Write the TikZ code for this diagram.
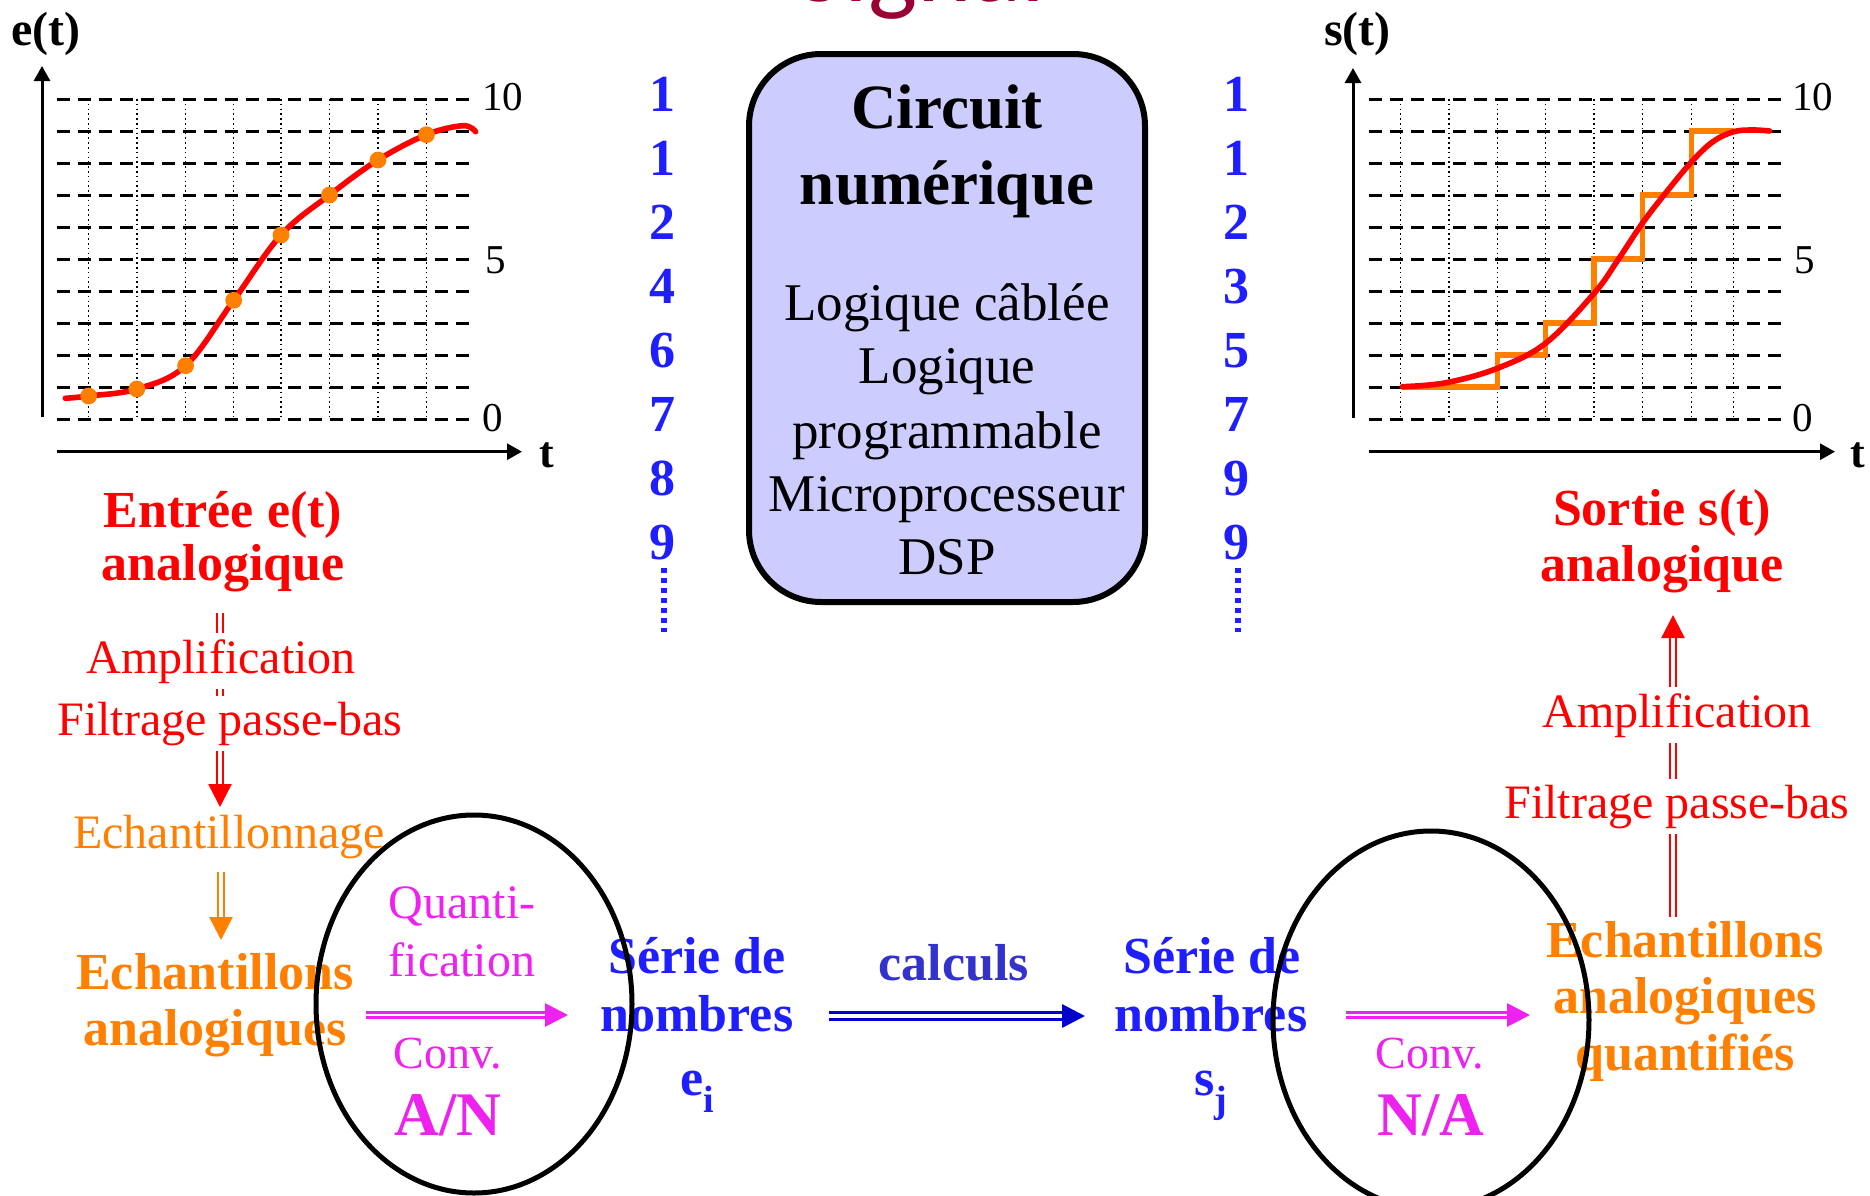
\documentclass[tikz,border=0pt]{standalone}
\usepackage{fontspec}
\setmainfont{Liberation Serif}
\newfontfamily\sigfont{Carlito}
\usetikzlibrary{arrows.meta}
\definecolor{myred}{HTML}{FF0000}
\definecolor{myorange}{HTML}{FF8000}
\definecolor{myblue}{HTML}{1E1EFF}
\definecolor{calcblue}{HTML}{3333CC}
\definecolor{arrblue}{HTML}{0000CC}
\definecolor{mymag}{HTML}{EE22EE}
\definecolor{boxfill}{HTML}{CCCCFF}
\definecolor{sigred}{HTML}{990033}
\newcommand\fBold{\fontsize{26}{28}\bfseries\selectfont}
\newcommand\fReg{\fontsize{24}{26}\selectfont}
\newcommand\fTick{\fontsize{20.5}{22}\selectfont}
\newcommand\fAxis{\fontsize{24}{26}\bfseries\selectfont}
\newcommand\fT{\fontsize{22}{24}\bfseries\selectfont}
\newcommand\fTitle{\fontsize{31.5}{38}\bfseries\selectfont}
\newcommand\fList{\fontsize{26.5}{31.5}\selectfont}
\newcommand\fConv{\fontsize{23}{25}\selectfont}
\newcommand\fAN{\fontsize{31}{33}\bfseries\selectfont}
\newcommand\mysub[1]{\raisebox{-8.5pt}{\fontsize{19}{19}\bfseries\selectfont #1}}
\tikzset{
  txt/.style={anchor=base, inner sep=0pt},
  boldlbl/.style={txt, font=\fBold},
  reglbl/.style={txt, font=\fReg},
  whitelbl/.style={anchor=base, inner sep=3pt, fill=white, font=\fReg},
  tick/.style={anchor=west, inner sep=0pt, font=\fTick},
  hdash/.style={line width=1.5pt, dash pattern=on 6.5pt off 4pt},
  vdot/.style={line width=0.7pt, dash pattern=on 0.8pt off 1.6pt},
  axis/.style={line width=1.5pt, -{Triangle[length=7.5pt,width=8pt]}},
  curve/.style={draw=myred, line width=2.8pt, line cap=round},
  stair/.style={draw=myorange, line width=2.6pt},
  ell/.style={draw=black, line width=2.5pt},
  circbox/.style={draw=black, fill=boxfill, line width=3pt, rounded corners=36pt,
    minimum width=198pt, minimum height=274pt, inner sep=0pt},
  digit/.style={txt, font=\fBold, text=myblue},
  bluedots/.style={draw=myblue, line width=2.8pt, dash pattern=on 2.5pt off 2.5pt},
  dblarrow/.style={line width=1.2pt, double=white, double distance=1.6pt,
    -{Triangle[length=11.5pt,width=11.5pt]}},
  dblred/.style={dblarrow, draw=myred},
  dblorange/.style={dblarrow, draw=myorange},
  dblmag/.style={dblarrow, draw=mymag, line width=1.4pt, double distance=1.3pt},
  dblblue/.style={dblarrow, draw=arrblue, line width=1.6pt, double distance=1.6pt},
}
\begin{document}
\begin{tikzpicture}[x=0.5pt,y=-0.5pt]
\fill[white] (0,0) rectangle (1870,1195);
\useasboundingbox (0,0) rectangle (1870,1195);

% title (cut off at the top, as in the reference)
\node[txt, font=\sigfont\fontsize{52}{52}\selectfont, text=sigred] (sig) at (921,1) {Signal};

% ---------- left graph ----------
\foreach \k in {0,...,10}
  \draw[hdash] (56.7,{99+32*\k}) -- (475.6,{99+32*\k});
\foreach \x in {88.7,136.8,185.6,233.7,281,329.5,378,426.4}
  \draw[vdot] (\x,99) -- (\x,419);
\draw[axis] (42,417) -- (42,66);
\draw[axis] (56.7,451.7) -- (522,451.7);
\node[txt, font=\fAxis] (et) at (46,45) {e(t)};
\node[txt, font=\fT] (tl) at (547,467) {t};
\node[tick] (l10) at (482,97) {10};
\node[tick] (l5) at (485,260) {5};
\node[tick] (l0) at (482,418) {0};
\draw[curve] plot[smooth, tension=0.6] coordinates {(65.3,398.3) (88.7,396) (136.8,389) (185.6,365.7) (233.7,300.3) (281,235) (329.5,195) (378,160) (426.4,134.7) (463,125.7) (475.6,131.7)};
\foreach \p in {(88.7,396),(136.8,389),(185.6,365.7),(233.7,300.3),(281,235),(329.5,195),(378,160),(426.4,134.7)}
  \fill[myorange] \p circle[radius=4.2pt];

% ---------- right graph ----------
\foreach \k in {0,...,10}
  \draw[hdash] (1369.4,{99+32*\k}) -- (1786,{99+32*\k});
\foreach \x in {1400.5,1449,1497.3,1545.5,1594,1642.3,1691.7,1733.7}
  \draw[vdot] (\x,99) -- (\x,419);
\draw[axis] (1353,418) -- (1353,68);
\draw[axis] (1369.4,451.7) -- (1835,451.7);
\node[txt, font=\fAxis] (st) at (1357.5,45) {s(t)};
\node[txt, font=\fT] (tr) at (1858,467) {t};
\node[tick] (r10) at (1792,97) {10};
\node[tick] (r5) at (1794,260) {5};
\node[tick] (r0) at (1792,418) {0};
\draw[stair] (1402,387) -| (1497.3,355) -| (1545.5,323) -| (1594,259) -| (1642.3,195) -| (1691.7,131) -- (1733.7,131);
\draw[curve] plot[smooth, tension=0.6] coordinates {(1402.3,386.7) (1446.1,382.7) (1497.3,368.3) (1545.5,343.3) (1594.1,293.3) (1617.9,260) (1642.3,223.3) (1665.4,193.3) (1691.7,161.7) (1712.9,141.7) (1733.7,131.7) (1753.1,130) (1769.5,131)};

% ---------- central box ----------
\node[circbox] (circ) at (947,328) {};
\node[txt, font=\fTitle] (c1) at (947,128) {Circuit};
\node[txt, font=\fTitle] (c2) at (947,204) {numérique};
\node[txt, font=\fList] (m1) at (947,320) {Logique câblée};
\node[txt, font=\fList] (m2) at (947,383) {Logique};
\node[txt, font=\fList] (m3) at (947,448) {programmable};
\node[txt, font=\fList] (m4) at (947,511) {Microprocesseur};
\node[txt, font=\fList] (m5) at (947,574) {DSP};

% ---------- digit columns ----------
\foreach \d [count=\i from 0] in {1,1,2,4,6,7,8,9}
  \node[digit] (dl\i) at (662,{111+64*\i}) {\d};
\foreach \d [count=\i from 0] in {1,1,2,3,5,7,9,9}
  \node[digit] (dr\i) at (1236,{111+64*\i}) {\d};
\coordinate (dlA) at (664,568); \coordinate (dlB) at (664,632);
\coordinate (drA) at (1238,568); \coordinate (drB) at (1238,632);
\draw[bluedots] (dlA) -- (dlB);
\draw[bluedots] (drA) -- (drB);

% ---------- left chain ----------
\coordinate (la1) at (220,613); \coordinate (la2) at (220,807);
\draw[dblred] (la1) -- (la2);
\coordinate (lo1) at (221,872); \coordinate (lo2) at (221,940);
\draw[dblorange] (lo1) -- (lo2);
\node[boldlbl, text=myred] (in1) at (223,527) {Entrée e(t)};
\node[boldlbl, text=myred] (in2) at (223,580) {analogique};
\node[whitelbl, text=myred] (ampL) at (221,673) {Amplification};
\node[whitelbl, text=myred] (filL) at (230,735) {Filtrage passe-bas};
\node[reglbl, text=myorange] (ech) at (229,848) {Echantillonnage};
\node[boldlbl, text=myorange] (eaL1) at (215,989) {Echantillons};
\node[boldlbl, text=myorange] (eaL2) at (215,1045) {analogiques};

% ---------- A/N ----------
\node[reglbl, text=mymag] (q1) at (462,918) {Quanti-};
\node[reglbl, text=mymag] (q2) at (462,976) {fication};
\coordinate (an1) at (366,1015); \coordinate (an2) at (568,1015);
\draw[dblmag] (an1) -- (an2);
\node[txt, font=\fConv, text=mymag] (cv1) at (448,1068) {Conv.};
\node[txt, font=\fAN, text=mymag] (AN) at (448,1135) {A/N};

\node[boldlbl, text=myblue] (se1) at (697,973) {Série de};
\node[boldlbl, text=myblue] (se2) at (697,1031) {nombres};
\node[boldlbl, text=myblue] (se3) at (697,1095) {e\mysub{i}};

% ---------- calculs ----------
\node[boldlbl, text=calcblue] (calc) at (954,980) {calculs};
\coordinate (ca1) at (829,1016); \coordinate (ca2) at (1085,1016);
\draw[dblblue] (ca1) -- (ca2);

\node[boldlbl, text=myblue] (ss1) at (1212,973) {Série de};
\node[boldlbl, text=myblue] (ss2) at (1211,1031) {nombres};
\node[boldlbl, text=myblue] (ss3) at (1211,1095) {s\mysub{j}};

% ---------- N/A ----------
\coordinate (na1) at (1346,1015); \coordinate (na2) at (1530,1015);
\draw[dblmag] (na1) -- (na2);
\node[txt, font=\fConv, text=mymag] (cv2) at (1430,1068) {Conv.};
\node[txt, font=\fAN, text=mymag] (NA) at (1431,1135) {N/A};

% ---------- right chain ----------
\coordinate (ra1) at (1673,917); \coordinate (ra2) at (1673,615);
\draw[dblred] (ra1) -- (ra2);
\node[boldlbl, text=myred] (out1) at (1662,525) {Sortie s(t)};
\node[boldlbl, text=myred] (out2) at (1662,581) {analogique};
\node[whitelbl, text=myred] (ampR) at (1677,727) {Amplification};
\node[whitelbl, text=myred] (filR) at (1677,818) {Filtrage passe-bas};
\node[boldlbl, text=myorange] (eq1) at (1685,957) {Echantillons};
\node[boldlbl, text=myorange] (eq2) at (1685,1013) {analogiques};
\node[boldlbl, text=myorange] (eq3) at (1685,1070) {quantifiés};

% ---------- ellipses ----------
\draw[ell] (474,1004) ellipse [x radius=79pt, y radius=94.5pt];
\draw[ell] (1431,1020) ellipse [x radius=79pt, y radius=94.5pt];
\end{tikzpicture}
\end{document}
